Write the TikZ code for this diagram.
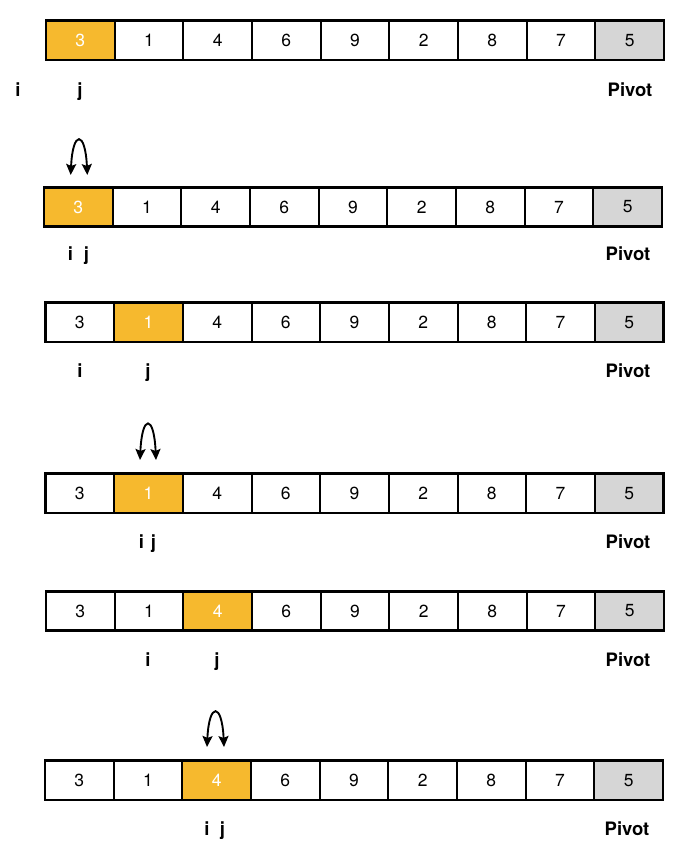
\documentclass[tikz,border=0pt]{standalone}
\usepackage{fontspec}
\setmainfont{TeX Gyre Heros}
\usetikzlibrary{arrows.meta}
\definecolor{cellorange}{RGB}{246,185,46}
\definecolor{cellgrey}{RGB}{214,214,214}
\tikzset{
  cell/.style={draw=black, line width=2pt, minimum width=68.67pt, minimum height=39.5pt,
    inner sep=0pt, outer sep=0pt, font=\fontsize{17.5}{20}\selectfont},
  hot/.style={cell, fill=cellorange, text=white},
  piv/.style={cell, fill=cellgrey},
  lbl/.style={anchor=base, font=\fontsize{18.5}{22}\selectfont\bfseries, inner sep=0pt},
  swaparrow/.style={line width=1.9pt, {Stealth[length=11pt,width=10pt,inset=2pt]}-{Stealth[length=11pt,width=10pt,inset=2pt]}}
}
\begin{document}
\begin{tikzpicture}[x=1pt,y=-1pt]
\useasboundingbox[fill=white] (0,0) rectangle (681,846);
\foreach \r/\xl/\yc/\h in {1/46/40.2/1, 2/44/207/1, 3/45.5/322.3/2, 4/45.5/493.3/2, 5/46/611/3, 6/45/780.2/3}{
  \foreach \v [count=\k] in {3,1,4,6,9,2,8,7,5}{
    \ifnum\k=\h \def\st{hot}\else\ifnum\k=9 \def\st{piv}\else\def\st{cell}\fi\fi
    \node[\st] (r\r c\k) at ({\xl+(\k-0.5)*68.67},\yc) {\v};
  }
  \draw[line width=2.8pt] (r\r c1.north west) rectangle (r\r c9.south east);
}
% labels
\node[lbl] (i1) at (18,96) {i};
\node[lbl] (j1) at (80,96) {j};
\node[lbl] (p1) at (630,96) {Pivot};
\node[lbl] (i2) at (70.5,260) {i};
\node[lbl] (j2) at (86.5,260) {j};
\node[lbl] (p2) at (628,260) {Pivot};
\node[lbl] (i3) at (80,377) {i};
\node[lbl] (j3) at (148,377) {j};
\node[lbl] (p3) at (628,377) {Pivot};
\node[lbl] (i4) at (141.5,548) {i};
\node[lbl] (j4) at (153.5,548) {j};
\node[lbl] (p4) at (628,548) {Pivot};
\node[lbl] (i5) at (148,666) {i};
\node[lbl] (j5) at (217,666) {j};
\node[lbl] (p5) at (628,666) {Pivot};
\node[lbl] (i6) at (207,835) {i};
\node[lbl] (j6) at (222.5,835) {j};
\node[lbl] (p6) at (627,835) {Pivot};
% swap arrows
\coordinate (a2l) at (70.7,175); \coordinate (a2r) at (87.3,175);
\coordinate (a4l) at (140,460);  \coordinate (a4r) at (156,460);
\coordinate (a6l) at (207,747);  \coordinate (a6r) at (224,747);
\draw[swaparrow] (a2l) .. controls +(2,-45) and +(-2,-45) .. (a2r);
\draw[swaparrow] (a4l) .. controls +(2,-46) and +(-2,-46) .. (a4r);
\draw[swaparrow] (a6l) .. controls +(2,-45) and +(-2,-45) .. (a6r);
\end{tikzpicture}
\end{document}
